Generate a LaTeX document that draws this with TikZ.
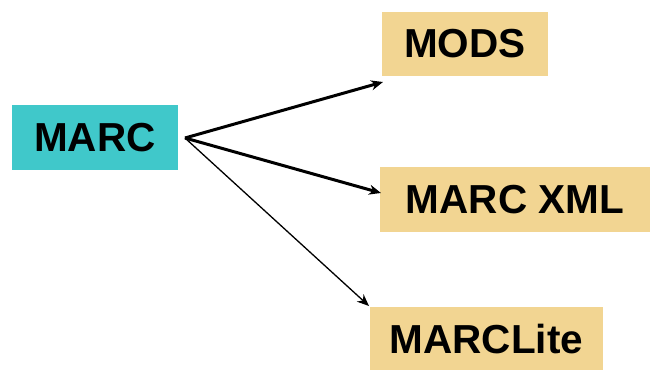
\documentclass[tikz,border=0pt]{standalone}
\usepackage{fontspec}
\setmainfont{Liberation Sans}
\usetikzlibrary{arrows.meta}
\definecolor{teal}{RGB}{64,200,202}
\definecolor{tan}{RGB}{242,213,146}
\tikzset{
  box/.style={inner sep=0pt, font=\fontsize{40.5}{48}\selectfont\bfseries, text=black},
  srcbox/.style={box, fill=teal},
  dstbox/.style={box, fill=tan},
  thickarrow/.style={line width=3pt, -{Stealth[length=12pt,width=10pt]}},
  thinarrow/.style={line width=1.3pt, -{Stealth[length=12pt,width=10pt]}}
}
\begin{document}
\begin{tikzpicture}[x=1pt,y=1pt]
\useasboundingbox (0,0) rectangle (655,369);
\clip (0,0) rectangle (655,369);
\node[srcbox, minimum width=166pt, minimum height=65pt] (marc) at (95,231.5) {MARC};
\node[dstbox, minimum width=166pt, minimum height=64pt] (mods) at (465,325) {MODS};
\node[dstbox, minimum width=270pt, minimum height=65pt] (xml) at (515,169.5) {MARC XML};
\node[dstbox, minimum width=233pt, minimum height=65pt] (lite) at (486.5,29.5) {MARCLite};
\coordinate (src) at (185,231);
\coordinate (tmods) at (383,287);
\coordinate (txml) at (381,176);
\coordinate (tlite) at (369,63);
\draw[thickarrow] (src) -- (tmods);
\draw[thickarrow] (src) -- (txml);
\draw[thinarrow] (src) -- (tlite);
\end{tikzpicture}
\end{document}
